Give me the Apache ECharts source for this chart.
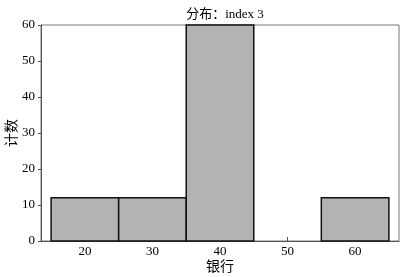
<!DOCTYPE html>
<html><head><meta charset="utf-8">
<script src="https://cdn.jsdelivr.net/npm/echarts@6/dist/echarts.min.js"></script>
<style>html,body{margin:0;padding:0;background:#fff}#c{width:408px;height:277px}</style>
</head><body><div id="c"></div>
<script>
const binStarts = [15, 25, 35, 45, 55];
const binEnds = [25, 35, 45, 55, 65];
const counts = [12, 12, 60, 0, 12];
const xTicks = [20, 30, 40, 50, 60];
const yTicks = [0, 10, 20, 30, 40, 50, 60];
const titleText = '分布：index 3';
const xName = '银行';
const yName = '计数';

const FONT = '"Liberation Serif", "Noto Sans CJK SC", serif';
const data = binStarts.map((s, i) => [s, binEnds[i], counts[i]]).filter(d => d[2] > 0);

const chart = echarts.init(document.getElementById('c'), null, {renderer: 'canvas'});
chart.setOption({
  animation: false,
  title: {text: titleText, left: 220, top: 3, textAlign: 'center',
    textStyle: {fontFamily: FONT, fontSize: 13, fontWeight: 'normal', color: '#000'}},
  grid: {left: 41, right: 9, top: 25, bottom: 36, containLabel: false, outerBoundsMode: 'none',
    show: true, borderColor: '#777', borderWidth: 1, backgroundColor: 'transparent'},
  xAxis: {
    type: 'value', min: 13.5, max: 66.5, splitNumber: 5,
    name: xName, nameLocation: 'middle', nameGap: 19, nameMoveOverlap: false,
    nameTextStyle: {fontFamily: FONT, fontSize: 14, color: '#000', verticalAlign: 'top'},
    axisLine: {show: true, onZero: false, lineStyle: {color: '#555', width: 1}},
    axisTick: {show: true, inside: true, length: 4, lineStyle: {color: '#555'}},
    axisLabel: {show: true, showMinLabel: false, showMaxLabel: false, margin: 4, fontFamily: FONT, fontSize: 13, color: '#000',
      formatter: v => (xTicks.indexOf(v) >= 0 ? String(v) : '')},
    splitLine: {show: false}
  },
  yAxis: {
    type: 'value', min: 0, max: 60, interval: 10,
    name: yName, nameLocation: 'middle', nameGap: 22, nameRotate: 90, nameMoveOverlap: false,
    nameTextStyle: {fontFamily: FONT, fontSize: 14, color: '#000', verticalAlign: 'bottom'},
    axisLine: {show: true, lineStyle: {color: '#555', width: 1}},
    axisTick: {show: true, inside: false, length: 3, lineStyle: {color: '#555'}},
    axisLabel: {margin: 6, fontFamily: FONT, fontSize: 13, color: '#000',
      formatter: v => (yTicks.indexOf(v) >= 0 ? String(v) : '')},
    splitLine: {show: false}
  },
  series: [{
    type: 'custom',
    data: data,
    encode: {x: [0, 1], y: 2},
    z: 1,
    renderItem: function (params, api) {
      const p0 = api.coord([api.value(0), 0]);
      const p1 = api.coord([api.value(1), api.value(2)]);
      return {
        type: 'rect',
        shape: {x: p0[0], y: p1[1], width: p1[0] - p0[0], height: p0[1] - p1[1]},
        style: {fill: '#b3b3b3', stroke: '#111', lineWidth: 1.5}
      };
    }
  }]
});
</script></body></html>
